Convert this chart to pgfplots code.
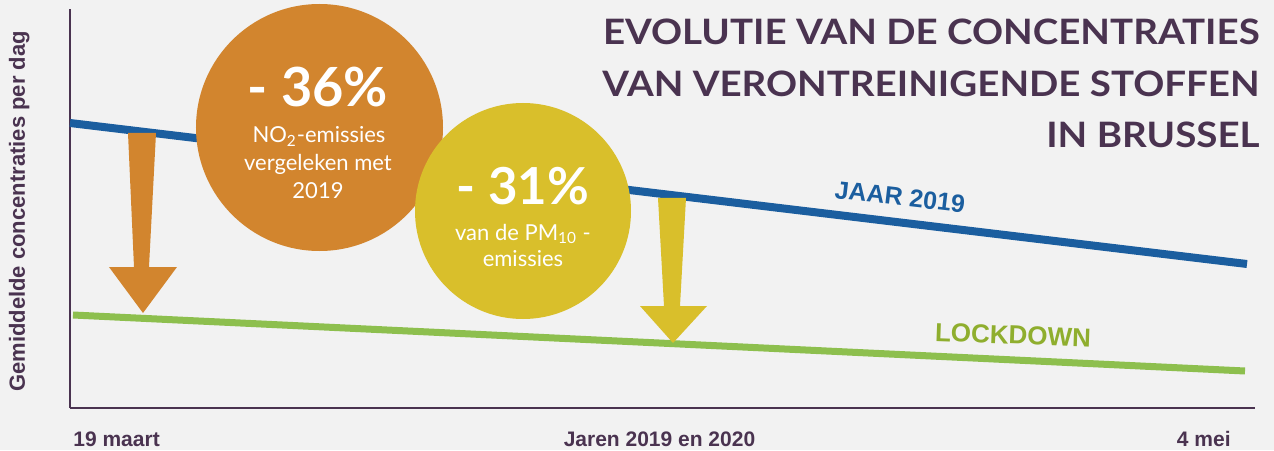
\documentclass[border=0pt]{standalone}
\usepackage{pgfplots}
\pgfplotsset{compat=1.18}
\usepackage{fontspec}
\setmainfont{Liberation Sans}
\newfontfamily\lato{Lato}
\definecolor{bg}{HTML}{F2F2F2}
\definecolor{paars}{HTML}{4A3350}
\definecolor{blauw}{HTML}{1B5E9F}
\definecolor{groen}{HTML}{8DBF4E}
\definecolor{groentekst}{HTML}{8FAE2E}
\definecolor{oranje}{HTML}{D2852E}
\definecolor{geel}{HTML}{D9BF2B}
\begin{document}
\begin{tikzpicture}
\begin{axis}[
  scale only axis,
  width=592.5pt, height=200pt,
  xmin=0, xmax=1185, ymin=0, ymax=400,
  axis x line*=bottom, axis y line*=left,
  axis line style={-, draw=paars, line width=1.1pt},
  xtick=\empty, ytick=\empty,
  clip=false,
]
% background
\fill[bg] (axis cs:-70,-42) rectangle (axis cs:1204,408);
\draw[paars, line width=1.1pt] (axis cs:0,0) -- (axis cs:0,399);
\draw[paars, line width=1.3pt] (axis cs:0,0) -- (axis cs:1185,0);
% series
\addplot[blauw, line width=4pt, line cap=butt, mark=none] coordinates {(0,285) (1177,144)};
\addplot[groen, line width=3.5pt, line cap=butt, mark=none] coordinates {(3,93) (1175,37)};
% arrows
\fill[oranje] (axis cs:58,275) -- (axis cs:86,275) -- (axis cs:79,141) -- (axis cs:107,141) -- (axis cs:73,95) -- (axis cs:39,141) -- (axis cs:64,141) -- cycle;
\fill[geel] (axis cs:588,210) -- (axis cs:616,210) -- (axis cs:610,102) -- (axis cs:637,102) -- (axis cs:603,65) -- (axis cs:570,102) -- (axis cs:594,102) -- cycle;
% circles
\fill[oranje] (axis cs:249.5,280.5) circle[radius=61.75pt];
\fill[geel] (axis cs:453,197) circle[radius=54pt];
% circle texts
\node[anchor=base, text=white, font=\lato\bfseries\fontsize{27}{30}\selectfont, inner sep=0pt] at (axis cs:248,301) {- 36\%};
\node[anchor=base, text=white, font=\lato\fontsize{11}{13}\selectfont, inner sep=0pt] at (axis cs:249,265) {NO\textsubscript{2}-emissies};
\node[anchor=base, text=white, font=\lato\fontsize{11}{13}\selectfont, inner sep=0pt] at (axis cs:248,237) {vergeleken met};
\node[anchor=base, text=white, font=\lato\fontsize{11}{13}\selectfont, inner sep=0pt] at (axis cs:248,209) {2019};
\node[anchor=base, text=white, font=\lato\bfseries\fontsize{25.5}{30}\selectfont, inner sep=0pt] at (axis cs:453,203) {- 31\%};
\node[anchor=base, text=white, font=\lato\fontsize{11}{13}\selectfont, inner sep=0pt] at (axis cs:453,168) {van de PM\textsubscript{10} -};
\node[anchor=base, text=white, font=\lato\fontsize{11}{13}\selectfont, inner sep=0pt] at (axis cs:453,141) {emissies};
% title
\node[anchor=base east, xscale=1.1, text=paars, font=\lato\bfseries\fontsize{17.5}{20}\selectfont, inner sep=0pt] at (axis cs:1190,363) {EVOLUTIE VAN DE CONCENTRATIES};
\node[anchor=base east, xscale=1.1, text=paars, font=\lato\bfseries\fontsize{17.5}{20}\selectfont, inner sep=0pt] at (axis cs:1190,311) {VAN VERONTREINIGENDE STOFFEN};
\node[anchor=base east, xscale=1.1, text=paars, font=\lato\bfseries\fontsize{17.5}{20}\selectfont, inner sep=0pt] at (axis cs:1190,260) {IN BRUSSEL};
% line labels
\node[text=blauw, font=\bfseries\fontsize{12.5}{14}\selectfont, rotate=-6.5, inner sep=0pt] at (axis cs:830,211) {JAAR 2019};
\node[text=groentekst, font=\bfseries\fontsize{13}{15}\selectfont, rotate=-2, inner sep=0pt] at (axis cs:943,73) {LOCKDOWN};
% axis labels
\node[anchor=base west, text=paars, font=\bfseries\fontsize{10.5}{12}\selectfont, inner sep=0pt] at (axis cs:3,-38) {19 maart};
\node[anchor=base, text=paars, font=\bfseries\fontsize{10.5}{12}\selectfont, inner sep=0pt] at (axis cs:589.5,-38) {Jaren 2019 en 2020};
\node[anchor=base east, text=paars, font=\bfseries\fontsize{10.5}{12}\selectfont, inner sep=0pt] at (axis cs:1161,-38) {4 mei};
\node[anchor=base, rotate=90, text=paars, font=\bfseries\fontsize{11}{12}\selectfont, inner sep=0pt] at (axis cs:-45,196.5) {Gemiddelde concentraties per dag};
\end{axis}
\end{tikzpicture}
\end{document}
